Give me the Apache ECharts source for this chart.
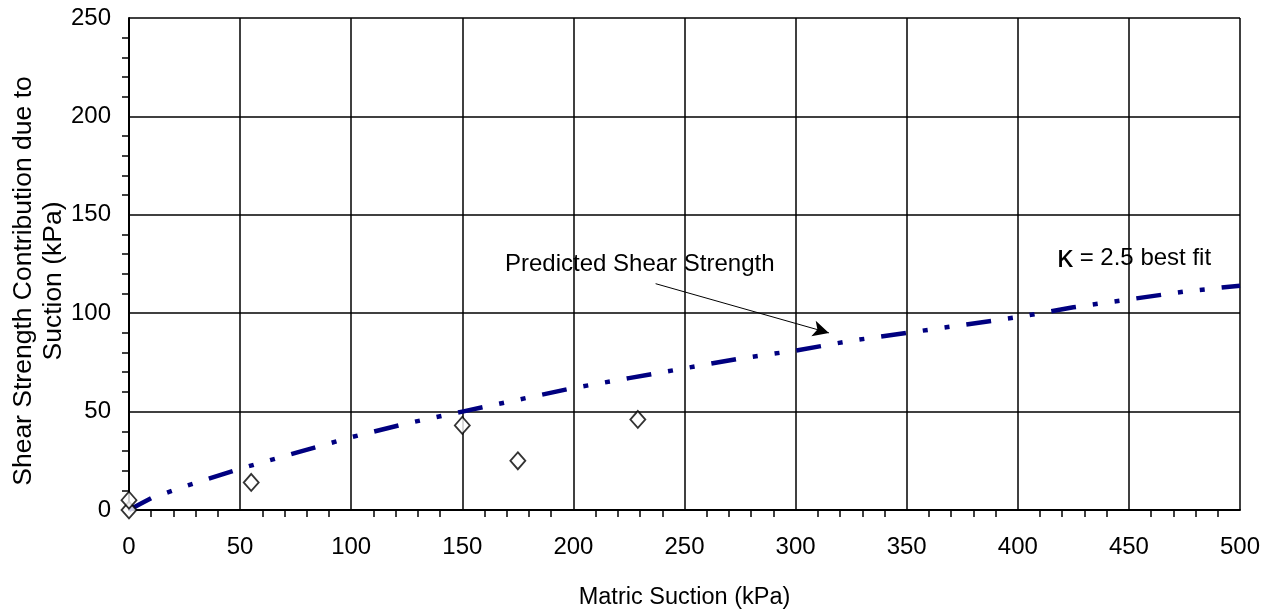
<!DOCTYPE html>
<html>
<head>
<meta charset="utf-8">
<script src="https://cdn.jsdelivr.net/npm/echarts@6/dist/echarts.min.js"></script>
<style>
  html, body { margin: 0; padding: 0; background: #fff; }
  #chart { width: 1273px; height: 612px; }
</style>
</head>
<body>
<div id="chart"></div>
<script>
  // predicted curve (kappa = 2.5 best fit)
  const predX = [0, 5, 10, 25, 50, 75, 100, 125, 150, 175, 200, 225, 250, 275, 300, 325, 350, 375, 400, 425, 450, 475, 500];
  const predY = [0, 3, 6, 12, 21, 29, 37, 44, 50, 56, 62, 67, 72, 77, 81, 86, 90, 94, 98, 103, 107, 111, 114];
  // measured points
  const measX = [0, 0, 55, 150, 175, 229];
  const measY = [0, 5, 14, 43, 25, 46];
  // arrow for the annotation (data coords)
  const arrowFrom = [237, 115];
  const arrowTo = [315, 90];

  const font = 'Arial, "Liberation Sans", sans-serif';

  let myChart = echarts.init(document.getElementById('chart'));
  myChart.setOption({
    animation: false,
    grid: {
      left: 129,
      right: 33,
      top: 18,
      bottom: 102,
      outerBoundsMode: 'none',
      containLabel: false
    },
    xAxis: {
      type: 'value',
      min: 0,
      max: 500,
      interval: 50,
      name: 'Matric Suction (kPa)',
      nameLocation: 'middle',
      nameGap: 76,
      nameMoveOverlap: false,
      nameTextStyle: { fontFamily: font, fontSize: 23.5, color: '#000' },
      axisLine: { show: true, onZero: false, lineStyle: { color: '#000', width: 2 } },
      axisTick: { show: false },
      minorTick: { show: true, splitNumber: 5, length: 7, lineStyle: { color: '#000', width: 1.5 } },
      axisLabel: { fontFamily: font, fontSize: 24, color: '#000', margin: 25 },
      splitLine: { show: true, lineStyle: { color: '#000', width: 1.5 } }
    },
    yAxis: {
      type: 'value',
      min: 0,
      max: 250,
      interval: 50,
      name: 'Shear Strength Contribution due to\nSuction (kPa)',
      nameLocation: 'middle',
      nameGap: 60,
      nameRotate: 90,
      nameMoveOverlap: false,
      nameTextStyle: {
        fontFamily: font, fontSize: 26.5, color: '#000', lineHeight: 30, align: 'center',
        padding: [0, 34, 0, 0]
      },
      axisLine: { show: true, onZero: false, lineStyle: { color: '#000', width: 2 } },
      axisTick: { show: false },
      minorTick: { show: true, splitNumber: 5, length: 7, lineStyle: { color: '#000', width: 1.5 } },
      axisLabel: { fontFamily: font, fontSize: 24, color: '#000', margin: 18 },
      splitLine: { show: true, lineStyle: { color: '#000', width: 1.5 } }
    },
    graphic: [
      {
        type: 'text',
        left: 505,
        top: 252,
        style: { text: 'Predicted Shear Strength', font: '24px ' + font, fill: '#000' }
      },
      {
        type: 'text',
        left: 1057,
        top: 242,
        style: {
          text: '{k|κ} = 2.5 best fit',
          font: '24px ' + font,
          fill: '#000',
          rich: { k: { fontSize: 32, fontFamily: font, fill: '#000' } }
        }
      }
    ],
    series: [
      {
        name: 'Predicted',
        type: 'line',
        data: predX.map((x, i) => [x, predY[i]]),
        showSymbol: false,
        symbol: 'none',
        lineStyle: { color: '#000080', width: 4.5, type: [25, 17, 5, 17, 5, 17], cap: 'butt' },
        z: 3,
        markLine: {
          silent: true,
          symbol: ['none', 'arrow'],
          symbolSize: [12, 16],
          label: { show: false },
          lineStyle: { color: '#000', width: 1, type: 'solid' },
          data: [[{ coord: arrowFrom }, { coord: arrowTo }]]
        }
      },
      {
        name: 'Measured',
        type: 'scatter',
        data: measX.map((x, i) => [x, measY[i]]),
        symbol: 'diamond',
        symbolSize: [15, 17],
        itemStyle: { color: '#fff', borderColor: '#000', borderWidth: 1.8 },
        z: 4
      }
    ]
  });
</script>
</body>
</html>
